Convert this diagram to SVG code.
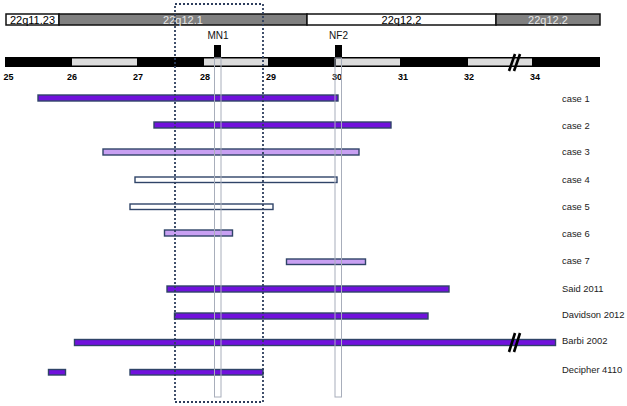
<svg xmlns="http://www.w3.org/2000/svg" width="627" height="406" viewBox="0 0 627 406">
<style>
.band{stroke:#111;stroke-width:1.5}
.bt{font-family:"Liberation Sans",Arial,sans-serif;font-size:11px;text-anchor:middle}
.tick{font-family:"Liberation Sans",Arial,sans-serif;font-size:9px;font-weight:bold;text-anchor:middle;fill:#000}
.lbl{font-family:"Liberation Sans",Arial,sans-serif;font-size:9.4px;fill:#222}
.gene{font-family:"Liberation Sans",Arial,sans-serif;font-size:10px;fill:#111;text-anchor:middle}
.dark{fill:#7011dc;stroke:#2f4468;stroke-width:1.4}
.light{fill:#c8a0f2;stroke:#2f4468;stroke-width:1.4}
.white{fill:#fff;stroke:#2f4468;stroke-width:1.4}
.brk{stroke:#000;stroke-width:2.6;fill:none}
</style>
<rect width="627" height="406" fill="#fff"/>
<g id="bands">
<rect class="band" x="6" y="14" width="53" height="11" fill="#fff"/>
<rect class="band" x="59" y="14" width="248" height="11" fill="#808080"/>
<rect class="band" x="307" y="14" width="189" height="11" fill="#fff"/>
<rect class="band" x="496" y="14" width="104" height="11" fill="#808080"/>
<text class="bt" x="32.5" y="23.5" fill="#000">22q11.23</text>
<text class="bt" x="183" y="23.5" fill="#e8e8e8">22q12.1</text>
<text class="bt" x="401.5" y="23.5" fill="#000">22q12.2</text>
<text class="bt" x="548" y="23.5" fill="#e8e8e8">22q12.2</text>
</g>
<g id="chromosome">
<rect x="5" y="57" width="595" height="10" fill="#000"/>
<rect x="72" y="58.5" width="65" height="7" fill="#dcdcdc"/>
<rect x="204" y="58.5" width="64" height="7" fill="#dcdcdc"/>
<rect x="336" y="58.5" width="64" height="7" fill="#dcdcdc"/>
<rect x="468" y="58.5" width="64" height="7" fill="#dcdcdc"/>
<path class="brk" d="M509 71 L515 54 M514 71 L520 54"/>
<text class="tick" x="8.5" y="80">25</text>
<text class="tick" x="72" y="80">26</text>
<text class="tick" x="138" y="80">27</text>
<text class="tick" x="205" y="80">28</text>
<text class="tick" x="271" y="80">29</text>
<text class="tick" x="337" y="80">30</text>
<text class="tick" x="403" y="80">31</text>
<text class="tick" x="469" y="80">32</text>
<text class="tick" x="535" y="80">34</text>
</g>
<g id="MN1">
<rect x="214" y="45" width="7" height="13" fill="#000"/>
<text class="gene" x="218" y="39">MN1</text>
</g>
<g id="NF2">
<rect x="335" y="45" width="7" height="13" fill="#000"/>
<text class="gene" x="338.5" y="39">NF2</text>
</g>
<g id="case1"><rect class="dark" x="38" y="95" width="300" height="6"/><text class="lbl" x="562" y="101.5">case 1</text></g>
<g id="case2"><rect class="dark" x="154" y="122" width="237" height="6"/><text class="lbl" x="562" y="128.5">case 2</text></g>
<g id="case3"><rect class="light" x="103" y="149" width="256" height="6"/><text class="lbl" x="562" y="155">case 3</text></g>
<g id="case4"><rect class="white" x="135" y="177" width="202" height="5.5"/><text class="lbl" x="562" y="182.5">case 4</text></g>
<g id="case5"><rect class="white" x="130" y="204" width="143" height="5.5"/><text class="lbl" x="562" y="209.5">case 5</text></g>
<g id="case6"><rect class="light" x="164.5" y="230" width="68" height="6"/><text class="lbl" x="562" y="236.5">case 6</text></g>
<g id="case7"><rect class="light" x="286.5" y="259" width="79" height="5.5"/><text class="lbl" x="562" y="264">case 7</text></g>
<g id="said2011"><rect class="dark" x="167" y="286" width="282" height="6"/><text class="lbl" x="562" y="291.5">Said 2011</text></g>
<g id="davidson2012"><rect class="dark" x="174.5" y="313" width="253.5" height="6"/><text class="lbl" x="562" y="317.5">Davidson 2012</text></g>
<g id="barbi2002"><rect class="dark" x="74.5" y="339.5" width="481" height="6"/><path class="brk" d="M509 352 L515 333 M514 352 L520 333"/><text class="lbl" x="562" y="343.5">Barbi 2002</text></g>
<g id="decipher4110"><rect class="dark" x="48.5" y="369.5" width="17" height="5.5"/><rect class="dark" x="130" y="369.5" width="133" height="5.5"/><text class="lbl" x="562" y="372.5">Decipher 4110</text></g>
<g id="connectors">
<rect x="214.5" y="58" width="6.5" height="339" fill="none" stroke="#a8aebb" stroke-width="1"/>
<rect x="335" y="58" width="6.5" height="339" fill="none" stroke="#a8aebb" stroke-width="1"/>
<rect x="175" y="4" width="88" height="398" fill="none" stroke="#2d3d5c" stroke-width="1.8" stroke-dasharray="2,2"/>
</g>
</svg>
